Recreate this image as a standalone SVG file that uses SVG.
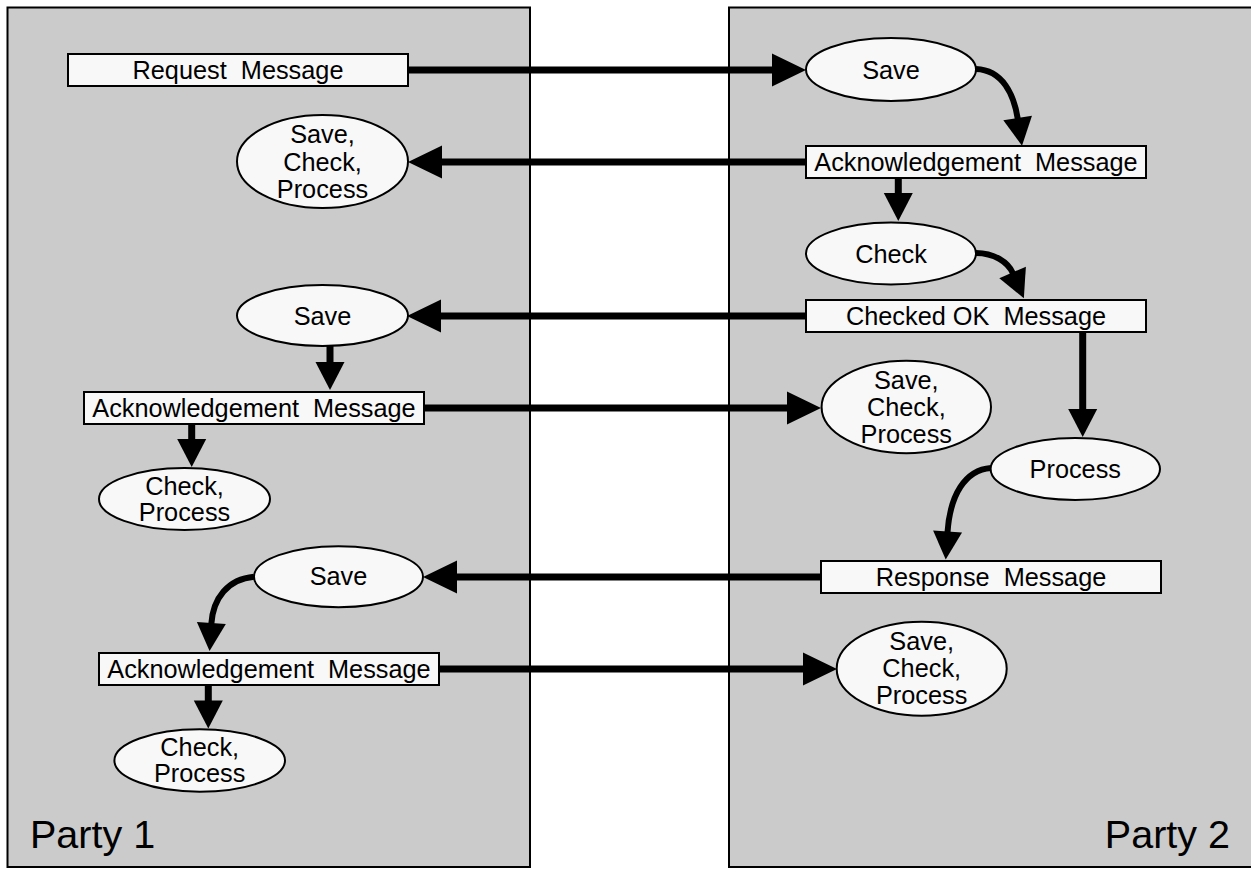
<svg xmlns="http://www.w3.org/2000/svg" width="1251" height="869" viewBox="0 0 1251 869">
  <style>
    .panel { fill: #cbcbcb; stroke: #000; stroke-width: 2; }
    .node { fill: #f8f8f8; stroke: #000; stroke-width: 2; }
    .lbl { font-family: "Liberation Sans", Arial, sans-serif; font-size: 25.3px; fill: #000; text-anchor: middle; }
    .party { font-family: "Liberation Sans", Arial, sans-serif; font-size: 39.5px; fill: #000; }
    .msg { fill: none; stroke: #000; stroke-width: 7; marker-end: url(#bigHead); }
    .step { fill: none; stroke: #000; stroke-width: 7; marker-end: url(#smallHead); }
    .bend { fill: none; stroke: #000; stroke-width: 6; marker-end: url(#smallHead); }
  </style>
  <defs>
    <marker id="bigHead" markerUnits="userSpaceOnUse" markerWidth="34" markerHeight="33" refX="1" refY="16.5" orient="auto" overflow="visible">
      <path d="M0,0 L34,16.5 L0,33 z" fill="#000"/>
    </marker>
    <marker id="smallHead" markerUnits="userSpaceOnUse" markerWidth="28" markerHeight="29" refX="1" refY="14.5" orient="auto" overflow="visible">
      <path d="M0,0 L28,14.5 L0,29 z" fill="#000"/>
    </marker>
  </defs>

  <!-- swimlanes -->
  <g id="party1">
    <rect class="panel" x="7.5" y="7.5" width="522.5" height="859.5"/>
    <text class="party" x="30" y="848">Party 1</text>
  </g>
  <g id="party2">
    <rect class="panel" x="729" y="7.5" width="540" height="859.5"/>
    <text class="party" x="1230" y="848" text-anchor="end">Party 2</text>
  </g>

  <!-- Party 1 nodes -->
  <g id="p1-request">
    <rect class="node" x="68" y="54" width="340" height="32"/>
    <text class="lbl" x="238" y="78.5" xml:space="preserve">Request  Message</text>
  </g>
  <g id="p1-save-check-process">
    <ellipse class="node" cx="322.5" cy="161.5" rx="85.5" ry="46.5"/>
    <text class="lbl" x="322.5" y="143">Save,</text>
    <text class="lbl" x="322.5" y="171">Check,</text>
    <text class="lbl" x="322.5" y="198">Process</text>
  </g>
  <g id="p1-save-1">
    <ellipse class="node" cx="322.5" cy="315.5" rx="85.5" ry="30.5"/>
    <text class="lbl" x="322.5" y="324.5">Save</text>
  </g>
  <g id="p1-ack-1">
    <rect class="node" x="84" y="392" width="340" height="32"/>
    <text class="lbl" x="254" y="416.5" xml:space="preserve">Acknowledgement  Message</text>
  </g>
  <g id="p1-check-process-1">
    <ellipse class="node" cx="184.5" cy="499" rx="85.5" ry="31"/>
    <text class="lbl" x="184.5" y="495">Check,</text>
    <text class="lbl" x="184.5" y="520.5">Process</text>
  </g>
  <g id="p1-save-2">
    <ellipse class="node" cx="338.5" cy="576.7" rx="84.5" ry="30.5"/>
    <text class="lbl" x="338.5" y="585">Save</text>
  </g>
  <g id="p1-ack-2">
    <rect class="node" x="99" y="653" width="340" height="32"/>
    <text class="lbl" x="269" y="677.5" xml:space="preserve">Acknowledgement  Message</text>
  </g>
  <g id="p1-check-process-2">
    <ellipse class="node" cx="199.7" cy="760.5" rx="85.3" ry="31.2"/>
    <text class="lbl" x="199.7" y="756">Check,</text>
    <text class="lbl" x="199.7" y="781.7">Process</text>
  </g>

  <!-- Party 2 nodes -->
  <g id="p2-save">
    <ellipse class="node" cx="891" cy="69.5" rx="85" ry="31.5"/>
    <text class="lbl" x="891" y="79">Save</text>
  </g>
  <g id="p2-ack">
    <rect class="node" x="806" y="146" width="340" height="32"/>
    <text class="lbl" x="976" y="170.5" xml:space="preserve">Acknowledgement  Message</text>
  </g>
  <g id="p2-check">
    <ellipse class="node" cx="891" cy="253.5" rx="85" ry="31"/>
    <text class="lbl" x="891" y="263">Check</text>
  </g>
  <g id="p2-checked-ok">
    <rect class="node" x="806" y="300" width="340" height="32"/>
    <text class="lbl" x="976" y="324.5" xml:space="preserve">Checked OK  Message</text>
  </g>
  <g id="p2-save-check-process-1">
    <ellipse class="node" cx="906.3" cy="407" rx="84.7" ry="46.3"/>
    <text class="lbl" x="906.3" y="388.5">Save,</text>
    <text class="lbl" x="906.3" y="416">Check,</text>
    <text class="lbl" x="906.3" y="442.5">Process</text>
  </g>
  <g id="p2-process">
    <ellipse class="node" cx="1075.3" cy="469" rx="84.7" ry="31"/>
    <text class="lbl" x="1075.3" y="478">Process</text>
  </g>
  <g id="p2-response">
    <rect class="node" x="821" y="561" width="340" height="32"/>
    <text class="lbl" x="991" y="585.5" xml:space="preserve">Response  Message</text>
  </g>
  <g id="p2-save-check-process-2">
    <ellipse class="node" cx="921.7" cy="668.7" rx="85" ry="47"/>
    <text class="lbl" x="921.7" y="650">Save,</text>
    <text class="lbl" x="921.7" y="677.3">Check,</text>
    <text class="lbl" x="921.7" y="704">Process</text>
  </g>

  <!-- connectors -->
  <g id="connectors">
    <!-- messages between the parties -->
    <path class="msg" d="M408,70 L773,70"/>
    <path class="msg" d="M806,162 L441,162"/>
    <path class="msg" d="M806,316 L440,316"/>
    <path class="msg" d="M424,408 L788,408"/>
    <path class="msg" d="M821,577 L456,577"/>
    <path class="msg" d="M439,669 L804,669"/>
    <!-- steps inside Party 1 -->
    <path class="step" d="M330,346 L330,363"/>
    <path class="step" d="M191.7,424 L191.7,440"/>
    <path class="bend" d="M254,576.7 C228,579 213,598 211.3,624"/>
    <path class="step" d="M208.3,685 L208.3,701.5"/>
    <!-- steps inside Party 2 -->
    <path class="bend" d="M976,69 C1003,70 1014,95 1017.8,119"/>
    <path class="step" d="M898.3,178 L898.3,194"/>
    <path class="bend" d="M976,253 C994,253 1008,262 1013,273.4"/>
    <path class="step" d="M1082.7,332 L1082.7,410"/>
    <path class="bend" d="M991,468 C965,470 950,495 947.5,532.5"/>
  </g>
</svg>
